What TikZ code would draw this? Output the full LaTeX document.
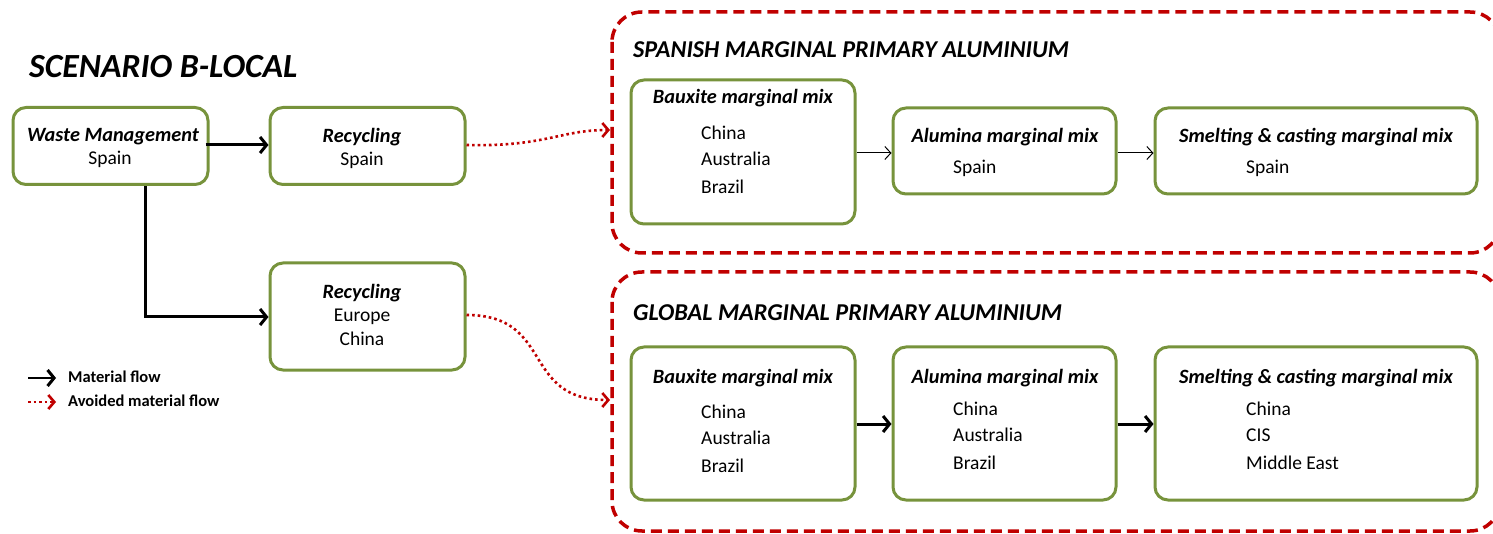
\documentclass[tikz,border=0pt]{standalone}
\usepackage{fontspec}
\setmainfont{Carlito}
\usetikzlibrary{arrows.meta}
\definecolor{ogreen}{HTML}{77933C}
\definecolor{dred}{HTML}{C00000}
\tikzset{
  gbox/.style={draw=ogreen, line width=3pt, rounded corners=13pt, inner sep=0pt, fill=white},
  rbox/.style={draw=dred, line width=3.5pt, rounded corners=30pt, dash pattern=on 11pt off 6pt},
  ttl/.style={font=\bfseries\itshape\fontsize{20.3}{24}\selectfont, inner sep=0pt},
  txt/.style={font=\fontsize{19.5}{23}\selectfont, inner sep=0pt, anchor=west},
  ctxt/.style={font=\fontsize{19.5}{23}\selectfont, inner sep=0pt},
  head/.style={font=\bfseries\itshape\fontsize{24.2}{28}\selectfont, inner sep=0pt, anchor=west},
  legtxt/.style={font=\bfseries\fontsize{16.5}{19}\selectfont, inner sep=0pt, anchor=west},
  flow/.style={line width=3pt, -{Straight Barb[length=6.5pt,width=16pt,line width=3pt]}},
  thinflow/.style={line width=1pt, -{Straight Barb[length=6pt,width=13pt,line width=1pt]}},
  avoid/.style={draw=dred, line width=2.6pt, dash pattern=on 2.6pt off 3pt, -{Straight Barb[length=6pt,width=14pt,line width=2.6pt,sep=0pt]}},
}
\begin{document}
\begin{tikzpicture}[x=1pt,y=-1pt]
\useasboundingbox (0,0) rectangle (1493,534);
\clip (0,0) rectangle (1493,534);
% red dashed regions
\draw[rbox] (612,12) rectangle (1500,253);
\draw[rbox] (612,272) rectangle (1500,531);
\node[head] (h1) at (633,50) {SPANISH MARGINAL PRIMARY ALUMINIUM};
\node[head] (h2) at (633,313) {GLOBAL MARGINAL PRIMARY ALUMINIUM};
\node[font=\bfseries\itshape\fontsize{33.8}{38}\selectfont, inner sep=0pt, anchor=west] (scen) at (29,67) {SCENARIO B-LOCAL};

% left boxes
\node[gbox, minimum width=195pt, minimum height=77pt] (wm) at (110.5,146) {};
\node[gbox, minimum width=195pt, minimum height=77pt] (rs) at (367.5,146) {};
\node[gbox, minimum width=195pt, minimum height=107pt] (re) at (367.5,316.5) {};
\node[ttl] (wmt) at (113,137) {Waste Management};
\node[ctxt] (wms) at (110,159) {Spain};
\node[ttl] (rst) at (362,137) {Recycling};
\node[ctxt] (rss) at (362,160) {Spain};
\node[ttl] (ret) at (362,293) {Recycling};
\node[ctxt] (ree) at (362,317) {Europe};
\node[ctxt] (rec) at (362,339) {China};

% spanish chain
\node[gbox, minimum width=224pt, minimum height=144pt] (b1) at (743,152) {};
\node[gbox, minimum width=223pt, minimum height=86pt] (a1) at (1004.5,151) {};
\node[gbox, minimum width=322pt, minimum height=86pt] (s1) at (1316,151) {};
\node[ttl] (b1t) at (743,98) {Bauxite marginal mix};
\node[txt] (b1a) at (701,133) {China};
\node[txt] (b1b) at (701,159) {Australia};
\node[txt] (b1c) at (701,187) {Brazil};
\node[ttl] (a1t) at (1005,137) {Alumina marginal mix};
\node[txt] (a1a) at (953,168) {Spain};
\node[ttl] (s1t) at (1316,137) {Smelting \& casting marginal mix};
\node[txt] (s1a) at (1246,168) {Spain};

% global chain
\node[gbox, minimum width=224pt, minimum height=153pt] (b2) at (743,423.5) {};
\node[gbox, minimum width=223pt, minimum height=153pt] (a2) at (1004.5,423.5) {};
\node[gbox, minimum width=322pt, minimum height=153pt] (s2) at (1316,423.5) {};
\node[ttl] (b2t) at (743,378) {Bauxite marginal mix};
\node[txt] (b2a) at (701,412) {China};
\node[txt] (b2b) at (701,438) {Australia};
\node[txt] (b2c) at (701,466) {Brazil};
\node[ttl] (a2t) at (1005,378) {Alumina marginal mix};
\node[txt] (a2a) at (953,409) {China};
\node[txt] (a2b) at (953,435) {Australia};
\node[txt] (a2c) at (953,463) {Brazil};
\node[ttl] (s2t) at (1316,378) {Smelting \& casting marginal mix};
\node[txt] (s2a) at (1246,409) {China};
\node[txt] (s2b) at (1246,435) {CIS};
\node[txt] (s2c) at (1246,463) {Middle East};

% connectors
\draw[flow] ([xshift=-4pt,yshift=1pt]wm.east) -- ([yshift=1pt]rs.west);
\draw[flow] ([xshift=34.5pt]wm.south) |- (re.west |- 0,317);
\draw[thinflow] (b1.east |- 0,153) -- (a1.west |- 0,153);
\draw[thinflow] (a1.east |- 0,153) -- (s1.west |- 0,153);
\draw[flow] (b2.east |- 0,424) -- (a2.west |- 0,424);
\draw[flow] (a2.east |- 0,424) -- (s2.west |- 0,424);
\coordinate (t1) at (610,130);
\coordinate (t2) at (610,400);
\draw[avoid] ([yshift=1pt]rs.east) .. controls (545,147) and (560,130) .. (t1);
\draw[avoid] (re.east |- 0,315) .. controls (555,315) and (520,400) .. (t2);

% legend
\coordinate (l1a) at (28,378);
\coordinate (l1b) at (56,378);
\coordinate (l2a) at (28,402);
\coordinate (l2b) at (56,402);
\draw[flow, line width=2.5pt] (l1a) -- (l1b);
\draw[avoid] (l2a) -- (l2b);
\node[legtxt] (lg1) at (68,377) {Material flow};
\node[legtxt] (lg2) at (68,401) {Avoided material flow};
\end{tikzpicture}
\end{document}
